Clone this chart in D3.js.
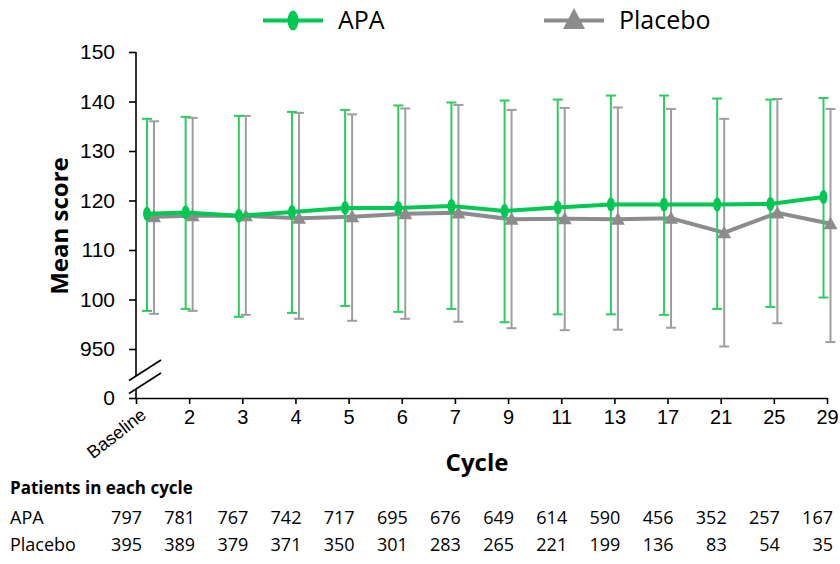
<!DOCTYPE html>
<html>
<head>
<meta charset="utf-8">
<script src="https://cdn.jsdelivr.net/npm/d3@7"></script>
<style>
  body { margin: 0; background: #fff; }
  svg { font-family: "Open Sans", sans-serif; }
</style>
</head>
<body>
<script>
// cycles on the x axis
var cycles = ["Baseline", "2", "3", "4", "5", "6", "7", "9", "11", "13", "17", "21", "25", "29"];

// mean score and error bar ends
var apaMean  = [117.3, 117.6, 116.9, 117.7, 118.5, 118.5, 118.9, 117.9, 118.6, 119.2, 119.2, 119.2, 119.3, 120.7];
var apaHigh  = [136.5, 136.9, 137.1, 137.9, 138.3, 139.2, 139.8, 140.2, 140.4, 141.2, 141.2, 140.6, 140.4, 140.7];
var apaLow   = [97.7, 98.1, 96.5, 97.3, 98.7, 97.5, 98.1, 95.4, 97.0, 97.0, 96.9, 98.1, 98.5, 100.4];

var plaMean  = [116.7, 116.9, 116.9, 116.4, 116.7, 117.3, 117.5, 116.2, 116.3, 116.2, 116.4, 113.5, 117.5, 115.3];
var plaHigh  = [136.0, 136.7, 137.1, 137.7, 137.4, 138.6, 139.3, 138.3, 138.7, 138.8, 138.5, 136.5, 140.5, 138.5];
var plaLow   = [97.1, 97.7, 96.9, 96.1, 95.7, 96.1, 95.5, 94.2, 93.8, 93.9, 94.3, 90.5, 95.2, 91.4];

// patients in each cycle
var apaN     = [797, 781, 767, 742, 717, 695, 676, 649, 614, 590, 456, 352, 257, 167];
var placeboN = [395, 389, 379, 371, 350, 301, 283, 265, 221, 199, 136, 83, 54, 35];

var yTicks      = [0, 90, 100, 110, 120, 130, 140, 150];
var yTickLabels = ["0", "950", "100", "110", "120", "130", "140", "150"];

var green = "#00c853", greenBar = "#2ccc5e";
var grey = "#8e8b8e", greyBar = "#a09da0";

var width = 840, height = 564;

var svg = d3.select("body").append("svg")
    .attr("width", width)
    .attr("height", height);

var x = d3.scalePoint()
    .domain(cycles)
    .range([136, 827]);

// broken axis: 0 sits below the break, 90..150 above it
var y = d3.scaleLinear()
    .domain([0, 90, 150])
    .range([398, 349, 52]);

var baselineShift = 14.5;
function px(i, off) {
  return x(cycles[i]) + (i === 0 ? baselineShift : 0) + off;
}

// axes
var xAxis = d3.axisBottom(x).tickSize(6).tickSizeOuter(0).tickPadding(6);
var gx = svg.append("g")
    .attr("transform", "translate(0," + y(0) + ")")
    .call(xAxis);
gx.selectAll("text").style("font-size", "20px").attr("fill", "#000");
gx.select(".domain").attr("stroke-width", 1.6);
gx.selectAll(".tick line").attr("stroke-width", 1.6);
gx.selectAll(".tick text")
    .filter(function(d) { return d === "Baseline"; })
    .style("font-size", "18px")
    .attr("text-anchor", "end")
    .attr("dy", null)
    .attr("y", 0)
    .attr("transform", "translate(11,19) rotate(-38)");

var yAxis = d3.axisLeft(y)
    .tickValues(yTicks)
    .tickFormat(function(d, i) { return yTickLabels[i]; })
    .tickSize(7)
    .tickPadding(14);
var gy = svg.append("g")
    .attr("transform", "translate(" + x(cycles[0]) + ",0)")
    .call(yAxis);
gy.select(".domain").remove();
gy.selectAll("text").style("font-size", "21px").attr("fill", "#000");
gy.selectAll(".tick line").attr("stroke-width", 1.6);

// axis line with a break between 0 and 90
var breakTop = y(90) + 27, breakBot = y(0) - 9;
gy.append("line").attr("x1", 0).attr("x2", 0)
    .attr("y1", y(150)).attr("y2", breakTop)
    .attr("stroke", "#000").attr("stroke-width", 1.6);
gy.append("line").attr("x1", 0).attr("x2", 0)
    .attr("y1", breakBot).attr("y2", y(0))
    .attr("stroke", "#000").attr("stroke-width", 1.6);
[breakTop, breakBot].forEach(function(by) {
  gy.append("line")
      .attr("x1", -7).attr("y1", by + 4.5)
      .attr("x2", 25).attr("y2", by - 16)
      .attr("stroke", "#000").attr("stroke-width", 1.6);
});

// one series: error bars, line, markers
function drawSeries(mean, low, high, off, col, barCol, marker) {
  var g = svg.append("g");
  var idx = d3.range(mean.length);
  var bars = g.selectAll(".bar").data(idx).enter().append("g");
  bars.append("line")
      .attr("x1", function(i) { return px(i, off); })
      .attr("x2", function(i) { return px(i, off); })
      .attr("y1", function(i) { return y(low[i]); })
      .attr("y2", function(i) { return y(high[i]); })
      .attr("stroke", barCol).attr("stroke-width", 2);
  [low, high].forEach(function(arr) {
    bars.append("line")
        .attr("x1", function(i) { return px(i, off) - 5; })
        .attr("x2", function(i) { return px(i, off) + 5; })
        .attr("y1", function(i) { return y(arr[i]); })
        .attr("y2", function(i) { return y(arr[i]); })
        .attr("stroke", barCol).attr("stroke-width", 2);
  });

  var line = d3.line()
      .x(function(i) { return px(i, off); })
      .y(function(i) { return y(mean[i]); });
  g.append("path")
      .datum(idx)
      .attr("d", line)
      .attr("fill", "none")
      .attr("stroke", col)
      .attr("stroke-width", 4);

  if (marker === "ellipse") {
    g.selectAll(".pt").data(idx).enter().append("ellipse")
        .attr("cx", function(i) { return px(i, off); })
        .attr("cy", function(i) { return y(mean[i]); })
        .attr("rx", 4).attr("ry", 7)
        .attr("fill", col);
  } else {
    g.selectAll(".pt").data(idx).enter().append("path")
        .attr("d", "M0,-7L7,5.5L-7,5.5Z")
        .attr("transform", function(i) { return "translate(" + px(i, off) + "," + y(mean[i]) + ")"; })
        .attr("fill", col);
  }
}

drawSeries(plaMean, plaLow, plaHigh, 3.5, grey, greyBar, "triangle");
drawSeries(apaMean, apaLow, apaHigh, -3.5, green, greenBar, "ellipse");

// axis titles
svg.append("text")
    .attr("transform", "translate(68,226) rotate(-90)")
    .attr("text-anchor", "middle")
    .style("font-size", "24px").style("font-weight", "bold")
    .text("Mean score");

svg.append("text")
    .attr("x", 477).attr("y", 471)
    .attr("text-anchor", "middle")
    .style("font-size", "24px").style("font-weight", "bold")
    .text("Cycle");

// legend
var legend = svg.append("g");
legend.append("line").attr("x1", 263).attr("x2", 323).attr("y1", 20.5).attr("y2", 20.5)
    .attr("stroke", green).attr("stroke-width", 4);
legend.append("ellipse").attr("cx", 293).attr("cy", 20.5).attr("rx", 5.5).attr("ry", 10)
    .attr("fill", green);
legend.append("text").attr("x", 338).attr("y", 29)
    .style("font-size", "25px").text("APA");

legend.append("line").attr("x1", 544).attr("x2", 604).attr("y1", 20.5).attr("y2", 20.5)
    .attr("stroke", grey).attr("stroke-width", 4);
legend.append("path").attr("d", "M0,-11L11,10L-11,10Z")
    .attr("transform", "translate(574,19)")
    .attr("fill", grey);
legend.append("text").attr("x", 619).attr("y", 29)
    .style("font-size", "25px").text("Placebo");

// patients table
var col = d3.scalePoint().domain(cycles).range([142, 833]);

svg.append("text")
    .attr("x", 10).attr("y", 494)
    .style("font-size", "17px").style("font-weight", "bold")
    .text("Patients in each cycle");

var rows = [["APA", apaN, 524], ["Placebo", placeboN, 551]];
rows.forEach(function(r) {
  var g = svg.append("g").style("font-size", "18px");
  g.append("text").attr("x", 10).attr("y", r[2]).text(r[0]);
  g.selectAll(".n").data(r[1]).enter().append("text")
      .attr("x", function(d, i) { return col(cycles[i]); })
      .attr("y", r[2])
      .attr("text-anchor", "end")
      .text(function(d) { return d; });
});
</script>
</body>
</html>
